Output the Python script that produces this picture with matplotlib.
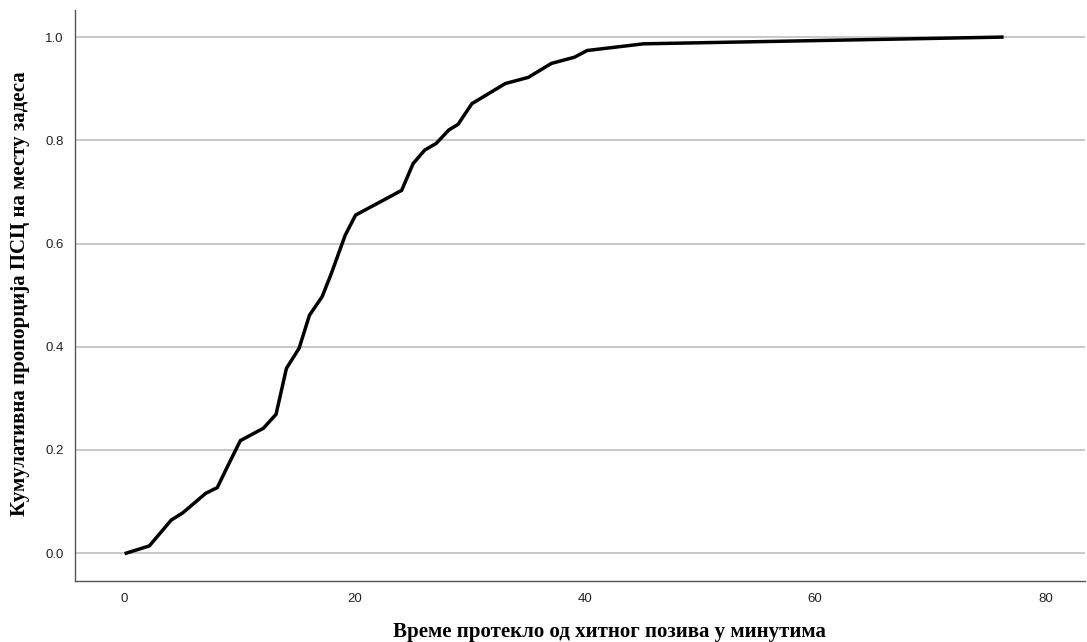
import matplotlib.pyplot as plt

# Cumulative proportion over time (minutes)
minutes = [0.2, 2.2, 4.1, 5.1, 7.1, 8.1, 8.9, 10.1, 12.1, 13.2, 14.1, 15.2, 16.1,
           17.2, 18.0, 19.2, 20.1, 24.1, 25.1, 26.1, 27.1, 28.2, 29.0, 30.2,
           33.1, 35.1, 37.1, 39.1, 40.2, 45.1, 76.2]
cum_prop = [0.0, 0.014, 0.064, 0.078, 0.116, 0.127, 0.164, 0.218, 0.242, 0.269,
            0.358, 0.397, 0.461, 0.497, 0.542, 0.616, 0.655, 0.703, 0.755, 0.781,
            0.794, 0.820, 0.831, 0.871, 0.910, 0.922, 0.949, 0.961, 0.974, 0.987,
            1.0]

x_ticks = [0, 20, 40, 60, 80]
y_ticks = [0.0, 0.2, 0.4, 0.6, 0.8, 1.0]

fig = plt.figure(figsize=(10.87, 6.42), dpi=100)
ax = fig.add_axes([0.069, 0.095, 0.929, 0.889])

ax.plot(minutes, cum_prop, color='black', linewidth=2.5, solid_joinstyle='miter', zorder=3)

ax.set_xlim(-4.25, 83.4)
ax.set_ylim(-0.054, 1.052)
ax.set_xticks(x_ticks)
ax.set_yticks(y_ticks)
ax.set_xticklabels([str(t) for t in x_ticks])
ax.set_yticklabels([f"{t:.1f}" for t in y_ticks])
ax.tick_params(length=0, labelsize=9.5, colors='#222222')
ax.tick_params(axis='y', pad=8)
ax.tick_params(axis='x', pad=8.5)
for lab in ax.get_xticklabels() + ax.get_yticklabels():
    lab.set_fontfamily('Liberation Sans')

ax.yaxis.grid(True, color='#c8c8c8', linewidth=1.4)
ax.set_axisbelow(True)
ax.spines['top'].set_visible(False)
ax.spines['right'].set_visible(False)
ax.spines['left'].set_color('#555555')
ax.spines['bottom'].set_color('#555555')
ax.spines['left'].set_linewidth(1.0)
ax.spines['bottom'].set_linewidth(1.0)

fig.text(0.561, 0.0156, 'Време протекло од хитног позива у минутима',
         ha='center', va='center', fontsize=15, fontweight='bold',
         family='Liberation Serif')
fig.text(0.018, 0.542, 'Кумулативна пропорција ПСЦ на месту задеса',
         ha='center', va='center', rotation=90, fontsize=15, fontweight='bold',
         family='Liberation Serif')

fig.savefig('out.png', dpi=100)
